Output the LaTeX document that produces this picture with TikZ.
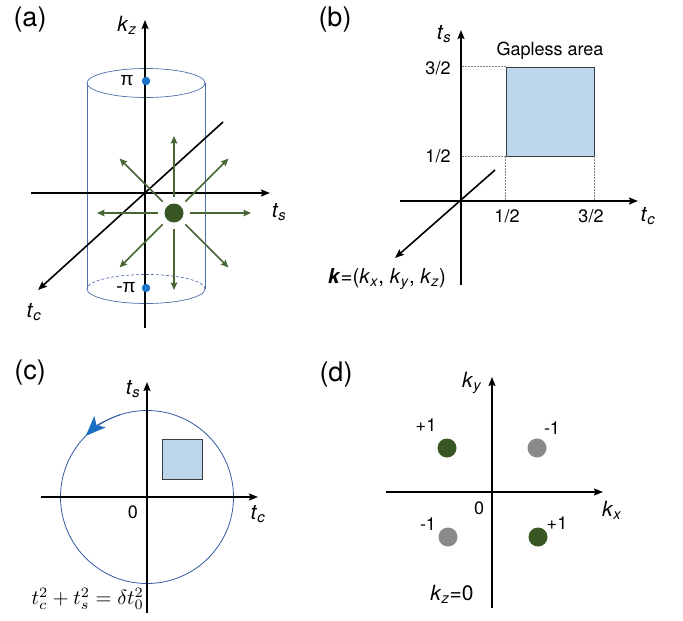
\documentclass[tikz,border=0pt]{standalone}
\usepackage[no-math]{fontspec}
\setmainfont{TeX Gyre Heros}
\newfontfamily\greekfont{Liberation Sans}
\usetikzlibrary{arrows.meta}
\definecolor{dotgreen}{RGB}{56,87,35}
\definecolor{arrgreen}{RGB}{72,102,52}
\definecolor{dotblue}{RGB}{26,115,200}
\definecolor{cylblue}{RGB}{80,110,170}
\definecolor{sqfill}{RGB}{190,214,236}
\definecolor{sqedge}{RGB}{60,60,60}
\definecolor{circblue}{RGB}{50,90,165}
\definecolor{arrblue}{RGB}{25,110,195}
\definecolor{dotgray}{RGB}{138,138,138}
\newcommand{\ivar}[2]{\textit{#1}\textsubscript{\textit{#2}}}
\begin{document}
\begin{tikzpicture}[x=1pt,y=1pt,
  axis/.style={line width=1.6pt,-{Stealth[length=9pt,width=7pt,inset=1.5pt]}},
  garrow/.style={arrgreen,line width=1.6pt,-{Stealth[length=7.5pt,width=6.5pt,inset=1pt]}},
  cyl/.style={cylblue,line width=0.7pt},
  bdot/.style={circle,fill=dotblue,inner sep=0pt,minimum size=8.5pt},
  gdot/.style={circle,fill=dotgreen,inner sep=0pt,minimum size=19pt},
  ydot/.style={circle,fill=dotgray,inner sep=0pt,minimum size=19pt},
  sqbox/.style={draw=sqedge,fill=sqfill,line width=0.8pt,inner sep=0pt},
  guide/.style={gray,line width=0.6pt,dash pattern=on 1.5pt off 1.5pt},
  plab/.style={inner sep=0pt,font=\fontsize{27}{30}\selectfont},
  alab/.style={inner sep=0pt,font=\fontsize{21}{24}\selectfont},
  tlab/.style={inner sep=0pt,font=\fontsize{18}{21}\selectfont},
]
\useasboundingbox (0,0) rectangle (683,-621);

% ---------- panel (a) ----------
\node[plab] (la) at (30,-20) {(a)};
\draw[cyl] (87,-83) -- (87,-289);
\draw[cyl] (205,-83) -- (205,-289);
\draw[cyl] (146,-83) ellipse [x radius=59, y radius=14.5];
\draw[cyl] (87,-289) arc[start angle=180,end angle=360,x radius=59,y radius=14.5];
\draw[cyl,dash pattern=on 3pt off 2pt] (205,-289) arc[start angle=0,end angle=180,x radius=59,y radius=14.5];
\coordinate (kzb) at (145,-328);
\coordinate (kzt) at (145,-20);
\coordinate (tsl) at (31,-193);
\coordinate (tsr) at (270,-193);
\coordinate (tcu) at (223,-122);
\coordinate (tcd) at (38,-290);
\draw[axis] (kzb) -- (kzt);
\draw[axis] (tsl) -- (tsr);
\draw[axis] (tcu) -- (tcd);
\node[alab] (kzl) at (127,-25) {\ivar{k}{z}};
\node[alab] (tsla) at (279,-212) {\ivar{t}{s}};
\node[alab] (tcla) at (34,-312) {\ivar{t}{c}};
\node[bdot] (pit) at (146,-81) {};
\node[bdot] (pib) at (146,-288) {};
\node[tlab,font=\fontsize{19}{21}\greekfont] (pitl) at (127,-81) {π};
\node[tlab,font=\fontsize{19}{21}\greekfont] (pibl) at (126,-288) {-π};
\node[gdot] (wp) at (174,-213) {};
\foreach \a in {0,45,...,315}
  \draw[garrow] ([shift={(\a:16)}]wp.center) -- ([shift={(\a:77)}]wp.center);

% ---------- panel (b) ----------
\node[plab] (lb) at (335,-20) {(b)};
\node[sqbox,minimum width=88pt,minimum height=89pt] (gap) at (550,-111.5) {};
\coordinate (ob) at (461,-201);
\draw[guide] (gap.north west) -- (gap.north west -| ob);
\draw[guide] (gap.south west) -- (gap.south west -| ob);
\draw[guide] (gap.south west) -- (gap.south west |- ob);
\draw[guide] (gap.south east) -- (gap.south east |- ob);
\coordinate (tsbb) at (461,-285);
\coordinate (tsbt) at (461,-30);
\coordinate (tcbl) at (400,-201);
\coordinate (tcbr) at (638,-201);
\coordinate (kbu) at (495,-170);
\coordinate (kbd) at (395,-258);
\draw[axis] (tsbb) -- (tsbt);
\draw[axis] (tcbl) -- (tcbr);
\draw[axis] (kbu) -- (kbd);
\node[alab] (tslb) at (444,-34) {\ivar{t}{s}};
\node[alab] (tclb) at (648,-216) {\ivar{t}{c}};
\node[tlab] (y32) at (438,-68) {3/2};
\node[tlab] (y12) at (438,-156) {1/2};
\node[tlab] (x12) at (507,-216) {1/2};
\node[tlab] (x32) at (591,-216) {3/2};
\node[tlab] (gapl) at (550,-51) {Gapless area};
\node[inner sep=0pt,font=\fontsize{20.5}{23}\selectfont] (kvec) at (387,-279)
  {\textbf{\textit{k}}=(\ivar{k}{x}, \ivar{k}{y}, \ivar{k}{z})};

% ---------- panel (c) ----------
\node[plab] (lc) at (30,-373) {(c)};
\node[circle,draw=circblue,line width=0.8pt,inner sep=0pt,minimum size=173pt] (loop) at (147,-497) {};
\draw[circblue,line width=0.8pt,-{Stealth[length=20pt,width=16pt,inset=5pt,color=arrblue]}]
  ([shift={(108:86.5)}]loop.center) arc[start angle=108,end angle=135,radius=86.5];
\node[sqbox,minimum width=40pt,minimum height=40pt] (gapc) at (182,-459) {};
\coordinate (tscb) at (147,-613);
\coordinate (tsct) at (147,-382);
\coordinate (tccl) at (41,-497);
\coordinate (tccr) at (258,-497);
\draw[axis] (tscb) -- (tsct);
\draw[axis] (tccl) -- (tccr);
\node[alab] (tslc) at (133,-389) {\ivar{t}{s}};
\node[alab] (tclc) at (258,-514) {\ivar{t}{c}};
\node[tlab] (zc) at (133,-512) {0};
\node[inner sep=0pt,anchor=east] (eq) at (144,-599) {\scalebox{2.05}{$t_c^2+t_s^2=\delta t_0^2$}};

% ---------- panel (d) ----------
\node[plab] (ld) at (336,-375) {(d)};
\coordinate (kyb) at (492,-608);
\coordinate (kyt) at (492,-377);
\coordinate (kxl) at (386,-492);
\coordinate (kxr) at (603,-492);
\draw[axis] (kyb) -- (kyt);
\draw[axis] (kxl) -- (kxr);
\node[alab] (kyl) at (472,-383) {\ivar{k}{y}};
\node[alab] (kxlab) at (612,-510) {\ivar{k}{x}};
\node[tlab] (zd) at (479,-508) {0};
\node[gdot] (d1) at (447,-448) {};
\node[ydot] (d2) at (537,-448) {};
\node[ydot] (d3) at (448,-537) {};
\node[gdot] (d4) at (538,-537) {};
\node[tlab] (l1) at (426,-425) {+1};
\node[tlab] (l2) at (552,-428) {-1};
\node[tlab] (l3) at (428,-524) {-1};
\node[tlab] (l4) at (557,-523) {+1};
\node[alab] (kz0) at (452,-594) {\ivar{k}{z}=0};
\end{tikzpicture}
\end{document}
